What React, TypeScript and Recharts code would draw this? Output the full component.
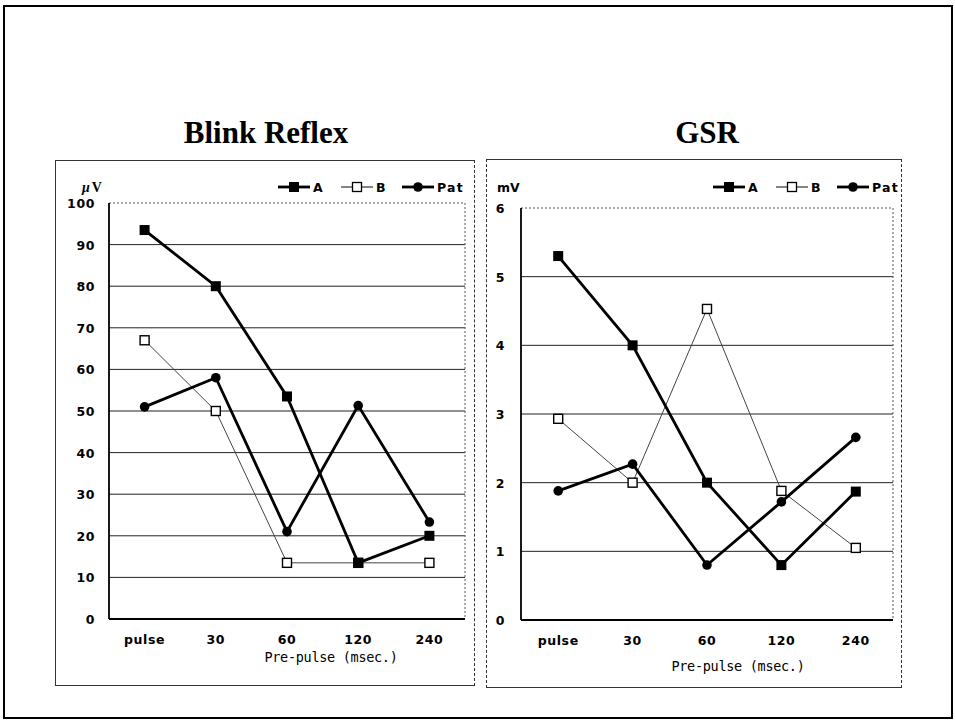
import React from "react";
import { LineChart, Line, XAxis, YAxis, CartesianGrid } from "recharts";

// Startle response measures by pre-pulse lead interval
const categories = ["pulse", "30", "60", "120", "240"];

const blinkA = [93.5, 80, 53.5, 13.5, 20];
const blinkB = [67, 50, 13.5, 13.5, 13.5];
const blinkPat = [51, 58, 21, 51.3, 23.3];

const gsrA = [5.3, 4.0, 2.0, 0.8, 1.87];
const gsrB = [2.93, 2.0, 4.53, 1.88, 1.05];
const gsrPat = [1.88, 2.27, 0.8, 1.72, 2.66];

const blinkTicks = [0, 10, 20, 30, 40, 50, 60, 70, 80, 90, 100];
const gsrTicks = [0, 1, 2, 3, 4, 5, 6];

const seriesNames = ["A", "B", "Pat"];

const rows = (a: number[], b: number[], pat: number[]) =>
  categories.map((c, i) => ({ cat: c, A: a[i], B: b[i], Pat: pat[i] }));

const TICK_FONT = "'DejaVu Sans', Arial, sans-serif";
const SERIF = "'Liberation Serif', 'Times New Roman', serif";

const filledSquare = (p: any) => (
  <rect key={`a${p.index}`} x={p.cx - 5} y={p.cy - 5} width={10} height={10} fill="#000" />
);
const openSquare = (p: any) => (
  <rect key={`b${p.index}`} x={p.cx - 4.5} y={p.cy - 4.5} width={9} height={9} fill="#fff" stroke="#000" strokeWidth={1.4} />
);
const filledCircle = (p: any) => <circle key={`p${p.index}`} cx={p.cx} cy={p.cy} r={4.8} fill="#000" />;

interface PanelProps {
  data: any[];
  ticks: number[];
  box: { left: number; top: number; width: number; height: number };
  margin: { top: number; right: number; left: number; bottom: number };
  yAxisWidth: number;
  xAxisHeight: number;
  yLabelGap: number;
  xLabelShift: number;
  xLabelDy: number;
}

function Panel({ data, ticks, box, margin, yAxisWidth, xAxisHeight, yLabelGap, xLabelShift, xLabelDy }: PanelProps) {
  const max = ticks[ticks.length - 1];
  const plotWidth = box.width - margin.left - margin.right - yAxisWidth;
  const pad = plotWidth / (categories.length * 2);
  return (
    <div style={{ position: "absolute", ...box }}>
      <LineChart width={box.width} height={box.height} data={data} margin={margin}>
        <CartesianGrid
          vertical={false}
          horizontalValues={ticks.slice(1, -1)}
          stroke="#222"
          strokeWidth={1}
        />
        {/* dotted top and right edges of the plot area */}
        <CartesianGrid
          horizontalCoordinatesGenerator={({ offset }: any) => [offset.top]}
          verticalCoordinatesGenerator={({ offset }: any) => [offset.left + offset.width]}
          stroke="#555"
          strokeDasharray="2 2"
        />
        <XAxis
          dataKey="cat"
          height={xAxisHeight}
          padding={{ left: pad, right: pad }}
          axisLine={{ stroke: "#000", strokeWidth: 1.8 }}
          tickLine={false}
          interval={0}
          tick={({ x, y, payload }: any) => (
            <text x={x} y={y + 17} textAnchor="middle" fontFamily={TICK_FONT} fontWeight="bold" fontSize={12.5} letterSpacing={0.6} fill="#000">
              {payload.value}
            </text>
          )}
          label={{
            content: ({ viewBox }: any) => (
              <text
                x={viewBox.x + viewBox.width / 2 + xLabelShift}
                y={viewBox.y + xLabelDy}
                textAnchor="middle"
                fontFamily="'DejaVu Sans Mono', monospace"
                fontSize={13.5}
                letterSpacing={-0.3}
                fill="#000"
              >
                Pre-pulse (msec.)
              </text>
            ),
          }}
        />
        <YAxis
          width={yAxisWidth}
          domain={[0, max]}
          ticks={ticks}
          interval={0}
          axisLine={{ stroke: "#000", strokeWidth: 1.8 }}
          tickLine={false}
          tick={({ x, y, payload }: any) => (
            <text x={x - yLabelGap} y={y + 5} textAnchor="end" fontFamily={TICK_FONT} fontWeight="bold" fontSize={12.5} letterSpacing={0.6} fill="#000">
              {payload.value}
            </text>
          )}
        />
        <Line type="linear" dataKey="B" stroke="#444" strokeWidth={1} dot={openSquare} isAnimationActive={false} />
        <Line type="linear" dataKey="Pat" stroke="#000" strokeWidth={2.8} dot={filledCircle} isAnimationActive={false} />
        <Line type="linear" dataKey="A" stroke="#000" strokeWidth={2.8} dot={filledSquare} isAnimationActive={false} />
      </LineChart>
    </div>
  );
}

function LegendRow({ x, y }: { x: number; y: number }) {
  const offsets = [0, 63, 124];
  return (
    <g>
      {seriesNames.map((name, i) => {
        const ix = x + offsets[i];
        const thick = name !== "B";
        return (
          <g key={name}>
            <line x1={ix} x2={ix + 32} y1={y} y2={y} stroke={thick ? "#000" : "#333"} strokeWidth={thick ? 2.8 : 1.2} />
            {name === "A" && <rect x={ix + 11} y={y - 5} width={10} height={10} fill="#000" />}
            {name === "B" && <rect x={ix + 11.5} y={y - 4.5} width={9} height={9} fill="#fff" stroke="#000" strokeWidth={1.3} />}
            {name === "Pat" && <circle cx={ix + 16} cy={y} r={4.8} fill="#000" />}
            <text x={ix + 35} y={y + 4.5} fontFamily={TICK_FONT} fontWeight="bold" fontSize={12.5} letterSpacing={1.2} fill="#000">
              {name}
            </text>
          </g>
        );
      })}
    </g>
  );
}

export default function App() {
  return (
    <div style={{ position: "absolute", left: 0, top: 0, width: 955, height: 722, background: "#fff", overflow: "hidden" }}>
      {/* page frame */}
      <div style={{ position: "absolute", left: 3, top: 5, width: 950, height: 714, border: "2.5px solid #000", boxSizing: "border-box" }} />
      {/* panel frames */}
      <div style={{ position: "absolute", left: 55, top: 160, width: 420, height: 526, border: "1px solid #333", borderRightStyle: "dashed", boxSizing: "border-box" }} />
      <div style={{ position: "absolute", left: 486, top: 159, width: 416, height: 529, border: "1px dashed #333", borderTopStyle: "solid", borderBottomStyle: "solid", boxSizing: "border-box" }} />

      <Panel
        data={rows(blinkA, blinkB, blinkPat)}
        ticks={blinkTicks}
        box={{ left: 55, top: 160, width: 420, height: 526 }}
        margin={{ top: 43, right: 10, left: 0, bottom: 0 }}
        yAxisWidth={54}
        xAxisHeight={67}
        yLabelGap={6}
        xLabelShift={44}
        xLabelDy={43}
      />
      <Panel
        data={rows(gsrA, gsrB, gsrPat)}
        ticks={gsrTicks}
        box={{ left: 486, top: 159, width: 416, height: 529 }}
        margin={{ top: 49, right: 9, left: 0, bottom: 0 }}
        yAxisWidth={35}
        xAxisHeight={68}
        yLabelGap={8}
        xLabelShift={31}
        xLabelDy={51}
      />

      <svg width={955} height={722} style={{ position: "absolute", left: 0, top: 0, pointerEvents: "none" }}>
        <text x={266} y={143} textAnchor="middle" fontFamily={SERIF} fontWeight="bold" fontSize={31} fill="#000">
          Blink Reflex
        </text>
        <text x={707} y={143} textAnchor="middle" fontFamily={SERIF} fontWeight="bold" fontSize={31} fill="#000">
          GSR
        </text>
        <text x={82} y={192} fontFamily={SERIF} fontWeight="bold" fontStyle="italic" fontSize={14} fill="#000">
          μ
          <tspan fontStyle="normal" dx={2}>V</tspan>
        </text>
        <text x={497} y={192} fontFamily={TICK_FONT} fontWeight="bold" fontSize={12.5} fill="#000">
          mV
        </text>
        <LegendRow x={278} y={187} />
        <LegendRow x={713} y={187} />
      </svg>
    </div>
  );
}
